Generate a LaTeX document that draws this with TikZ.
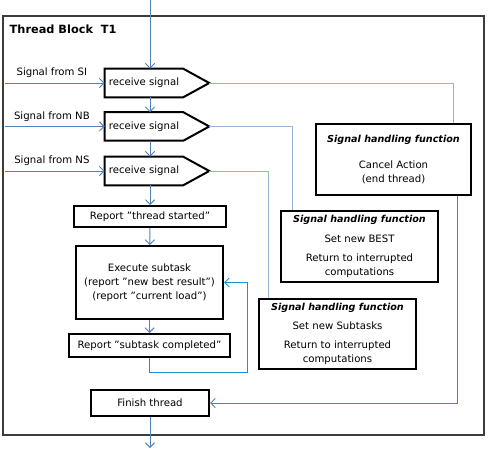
\documentclass[tikz,border=0pt]{standalone}
\usepackage{fontspec}
\setmainfont{DejaVu Sans}
\usetikzlibrary{positioning, arrows.meta}
\definecolor{flowblue}{RGB}{79,129,189}
\definecolor{sigblue}{RGB}{150,180,215}
\definecolor{loopblue}{RGB}{30,145,205}
\definecolor{framegray}{RGB}{60,60,60}
\newcommand\shf{{\fontsize{7.2}{10.5}\selectfont\bfseries\itshape Signal handling function}}

\begin{document}
\begin{tikzpicture}
	[x=0.75pt, y=-0.75pt, on grid, node distance=32.6pt,
	 >={Straight Barb[length=3.5pt,width=7pt]},
	 font=\fontsize{7.6}{10.5}\selectfont,
	 box/.style={draw, fill=white, line width=1.5pt, inner sep=0pt, align=center},
	 recv/.style={inner sep=0pt, minimum width=58.5pt, minimum height=21pt},
	 flow/.style={flowblue, line width=0.7pt, ->},
	 sig/.style={sigblue, line width=0.7pt},
	 lbl/.style={above, pos=0.47, text=black}]
   \useasboundingbox (0,0) rectangle (488,452);
   \draw[framegray, line width=0.8pt] (3,16) rectangle (484,435);
   \node[anchor=west, font=\fontsize{8.5}{10}\selectfont\bfseries] (ttl) at (5,29) {Thread Block\ \ T1};

   \node[recv] (r1) at (144,83) {receive signal};
   \node[recv] (r2) [below=of r1] {receive signal};
   \node[recv] (r3) [below=33.4pt of r2] {receive signal};
   \foreach \r in {r1,r2,r3}
      \draw[line width=1.5pt] (\r.north west) -- (\r.north east) -- ([xshift=19.5pt]\r.east) coordinate (\r-tip)
         -- (\r.south east) -- (\r.south west) -- cycle;

   \node[box, minimum width=114pt, minimum height=15.75pt] (started) at (150,216.5) {Report ”thread started”};
   \node[box, minimum width=110.25pt, minimum height=54.75pt] (exec) at (149.5,282.5)
      {Execute subtask\\ (report ”new best result”)\\ (report ”current load”)};
   \node[box, minimum width=120.75pt, minimum height=17.25pt] (done) at (149.5,345.5) {Report ”subtask completed”};
   \node[box, minimum width=88.5pt, minimum height=19.5pt] (finish) at (150,403) {Finish thread};

   \node[box, minimum width=116.25pt, minimum height=53.25pt] (cancel) at (393.5,159.5)
      {\shf\\[9pt] Cancel Action\\ (end thread)};
   \node[box, minimum width=117.75pt, minimum height=53.25pt] (best) at (359.5,246.5)
      {\shf\\[4pt] Set new BEST\\[4pt] Return to interrupted\\ computations};
   \node[box, minimum width=117.75pt, minimum height=52.5pt] (subt) at (337.5,334)
      {\shf\\[4pt] Set new Subtasks\\[4pt] Return to interrupted\\ computations};

   \coordinate (top) at (150,0);
   \coordinate (out) at (150,448);
   \coordinate (s1) at (5,83);
   \coordinate (s2) at (s1 |- r2);
   \coordinate (s3) at (s1 |- r3);
   \coordinate (k1) at (453,0);
   \coordinate (k2) at (292,0);
   \coordinate (k3) at (268,0);
   \coordinate (k4) at (457,0);
   \coordinate (lp) at (247,372);

   \path[flow]
   (top) edge (top |- r1.north)
   (top |- r1.south) edge (top |- r2.north)
   (top |- r2.south) edge (top |- r3.north)
   (top |- r3.south) edge (started)
   (started) edge (exec)
   (exec) edge (done)
   (finish) edge (out);

   \draw[flow] (s1) -- node[lbl] (l1) {Signal from SI} (r1.west);
   \draw[flow] (s2) -- node[lbl] (l2) {Signal from NB} (r2.west);
   \draw[flow] (s3) -- node[lbl] (l3) {Signal from NS} (r3.west);

   \draw[sig] (r1-tip) -| (k1 |- cancel.north);
   \draw[sig] (r2-tip) -| (k2 |- best.north);
   \draw[sig] (r3-tip) -| (k3 |- subt.north);
   \draw[flow] (k4 |- cancel.south) |- (finish.east);
   \draw[flow, loopblue] (done.south) |- (lp) |- (exec.east);
\end{tikzpicture}
\end{document}
